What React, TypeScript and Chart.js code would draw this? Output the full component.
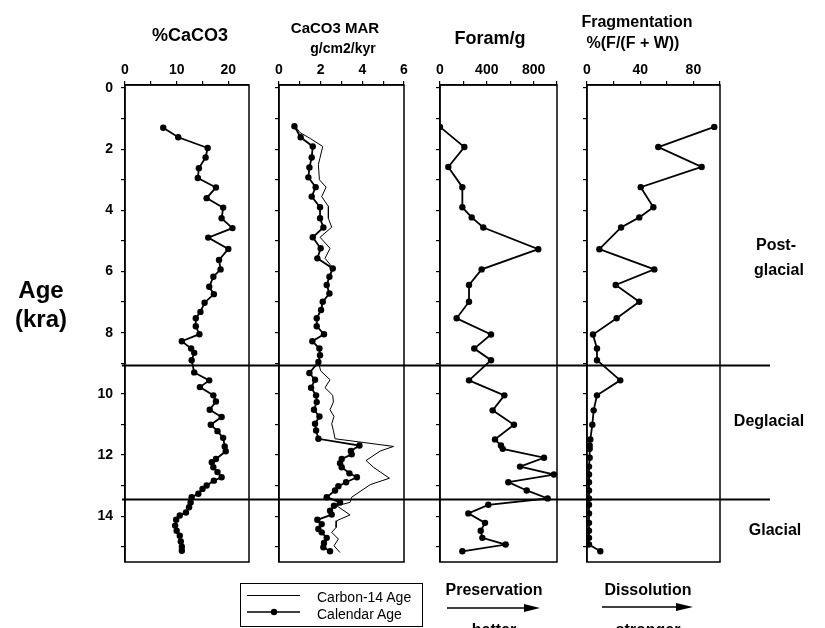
import React, { useEffect, useRef } from "react";
import { Chart, registerables } from "chart.js";

Chart.register(...registerables);

const FONT = "'Liberation Sans', Arial, Helvetica, sans-serif";

// ---------- shared age axis ----------
const ageTicks = [0, 1, 2, 3, 4, 5, 6, 7, 8, 9, 10, 11, 12, 13, 14, 15];
const ageLabels = [0, 2, 4, 6, 8, 10, 12, 14];
const boundaryAges = [9.07, 13.43];

// ---------- panel 1: %CaCO3 ----------
const caco3Ages = [1.3, 1.61, 1.96, 2.27, 2.62, 2.94, 3.25, 3.6, 3.91, 4.26, 4.58, 4.89, 5.26, 5.62, 5.93, 6.17, 6.5, 6.74, 7.02, 7.32, 7.53, 7.79, 8.05, 8.28, 8.52, 8.66, 8.9, 9.3, 9.56, 9.78, 10.05, 10.25, 10.52, 10.76, 11.01, 11.22, 11.44, 11.72, 11.88, 12.13, 12.24, 12.4, 12.56, 12.73, 12.84, 13.0, 13.11, 13.27, 13.38, 13.55, 13.71, 13.88, 13.98, 14.12, 14.31, 14.48, 14.64, 14.83, 15.0, 15.13];
const caco3Pct = [7.4, 10.3, 16.0, 15.6, 14.3, 14.1, 17.6, 15.8, 19.0, 18.7, 20.8, 16.1, 20.0, 18.2, 18.5, 17.1, 16.3, 17.2, 15.4, 14.6, 13.7, 13.7, 14.4, 11.0, 12.8, 13.4, 12.9, 13.4, 16.3, 14.5, 17.1, 17.6, 16.4, 18.7, 16.6, 17.9, 19.0, 19.3, 19.5, 17.6, 16.8, 17.1, 17.9, 18.7, 17.2, 15.8, 15.0, 14.2, 12.9, 12.7, 12.4, 11.8, 10.6, 9.9, 9.7, 10.0, 10.6, 10.8, 11.0, 11.0];
const caco3Ticks = [0, 5, 10, 15, 20];
const caco3Labels = [0, 10, 20];

// ---------- panel 2: CaCO3 MAR ----------
const marCalAges = [1.25, 1.61, 1.91, 2.27, 2.6, 2.92, 3.24, 3.55, 3.9, 4.26, 4.56, 4.88, 5.24, 5.57, 5.9, 6.17, 6.44, 6.72, 6.99, 7.26, 7.53, 7.79, 8.05, 8.28, 8.52, 8.74, 8.96, 9.32, 9.54, 9.8, 10.05, 10.27, 10.52, 10.74, 10.98, 11.2, 11.47, 11.69, 11.87, 11.98, 12.13, 12.27, 12.4, 12.6, 12.73, 12.89, 13.02, 13.16, 13.38, 13.55, 13.66, 13.82, 13.95, 14.12, 14.26, 14.42, 14.53, 14.71, 14.88, 15.02, 15.15];
const marCal = [0.74, 1.04, 1.62, 1.57, 1.46, 1.41, 1.76, 1.57, 1.97, 1.97, 2.13, 1.62, 2.0, 1.84, 2.58, 2.42, 2.29, 2.42, 2.1, 2.02, 1.81, 1.81, 2.16, 1.6, 1.94, 1.97, 1.89, 1.46, 1.73, 1.54, 1.78, 1.81, 1.68, 1.94, 1.73, 1.78, 1.89, 3.86, 3.45, 3.49, 3.01, 2.93, 3.01, 3.38, 3.74, 3.22, 2.85, 2.69, 2.29, 2.93, 2.64, 2.45, 2.53, 1.84, 2.05, 1.89, 2.05, 2.29, 2.16, 2.13, 2.45];
const marC14Ages = [1.22, 1.45, 1.65, 1.91, 2.5, 3.0, 3.24, 3.55, 3.87, 4.26, 4.55, 4.88, 5.24, 5.57, 5.88, 6.17, 6.44, 6.72, 6.99, 7.26, 7.53, 7.79, 8.05, 8.28, 8.52, 8.74, 8.96, 9.25, 9.54, 9.8, 10.05, 10.27, 10.52, 10.74, 10.98, 11.2, 11.47, 11.72, 11.87, 12.18, 12.4, 12.76, 12.97, 13.38, 13.55, 13.66, 13.96, 14.15, 14.37, 14.53, 14.75, 14.97, 15.19];
const marC14 = [0.74, 1.0, 1.5, 2.1, 1.89, 1.94, 2.26, 2.05, 2.37, 2.37, 2.53, 1.97, 2.45, 2.21, 2.58, 2.42, 2.29, 2.42, 2.1, 2.02, 1.81, 1.81, 2.16, 1.6, 1.94, 1.97, 1.89, 2.0, 2.45, 2.21, 2.58, 2.61, 2.45, 2.64, 2.53, 2.61, 2.69, 5.5, 4.86, 4.18, 4.53, 5.3, 4.38, 3.49, 3.41, 2.77, 3.41, 2.77, 2.74, 2.53, 2.85, 2.64, 2.93];
const marTicks = [0, 1, 2, 3, 4, 5, 6];
const marLabels = [0, 2, 4, 6];

// ---------- panels 3 & 4: shared samples ----------
const sampleAges = [1.27, 1.93, 2.58, 3.24, 3.9, 4.23, 4.56, 5.27, 5.93, 6.44, 6.99, 7.53, 8.06, 8.52, 8.9, 9.56, 10.05, 10.54, 11.01, 11.49, 11.69, 11.8, 12.09, 12.38, 12.64, 12.89, 13.16, 13.42, 13.63, 13.91, 14.22, 14.48, 14.71, 14.93, 15.15];
const foramPerG = [0, 208, 71, 191, 191, 271, 370, 840, 356, 248, 248, 142, 436, 293, 436, 248, 550, 450, 632, 470, 521, 536, 889, 684, 974, 584, 741, 920, 413, 242, 385, 348, 362, 561, 191];
const fragPct = [95.7, 53.6, 86.2, 40.4, 49.9, 39.3, 25.6, 9.3, 50.6, 21.6, 39.3, 22.3, 4.5, 7.5, 7.5, 25, 7.5, 5, 4, 2.5, 2, 2, 2, 1.5, 1.5, 1.5, 1.5, 1.5, 1.5, 1.5, 1.5, 1.5, 1.5, 1.5, 10];
const foramTicks = [0, 200, 400, 600, 800, 1000];
const foramLabels = [0, 400, 800];
const fragTicks = [0, 20, 40, 60, 80, 100];
const fragLabels = [0, 40, 80];

// ---------- layout ----------
const PAGE_W = 825;
const PAGE_H = 628;
const AREA_TOP = 85;
const AREA_BOTTOM = 562;

const toPoints = (ages: number[], vals: number[]) => ages.map((a, i) => ({ x: vals[i], y: a }));

const markerSeries = (label: string, ages: number[], vals: number[]) => ({
  label,
  data: toPoints(ages, vals),
  showLine: true,
  borderColor: "#000",
  backgroundColor: "#000",
  borderWidth: 1.8,
  pointRadius: 3.2,
  pointBorderWidth: 0,
  pointBackgroundColor: "#000",
});

const plainSeries = (label: string, ages: number[], vals: number[]) => ({
  label,
  data: toPoints(ages, vals),
  showLine: true,
  borderColor: "#000",
  backgroundColor: "#000",
  borderWidth: 1,
  pointRadius: 0,
});

const boxPlugin = {
  id: "panelBox",
  afterDraw(chart: any, _args: any, opts: any) {
    const { ctx, chartArea: a, scales } = chart;
    ctx.save();
    ctx.strokeStyle = "#000";
    ctx.lineWidth = 1.5;
    ctx.strokeRect(a.left, a.top, a.right - a.left, a.bottom - a.top);
    ctx.lineWidth = 1.8;
    for (const age of boundaryAges) {
      const y = Math.round(scales.y.getPixelForValue(age)) + 0.5;
      ctx.beginPath();
      ctx.moveTo(opts.x0, y);
      ctx.lineTo(opts.x1, y);
      ctx.stroke();
    }
    ctx.restore();
  },
};

type Panel = {
  left: number;
  width: number;
  areaLeft: number;
  areaRight: number;
  xMax: number;
  xTicks: number[];
  xLabels: number[];
  datasets: any[];
  yLabels: boolean;
  lineX0: number;
  lineX1: number;
};

const panels: Panel[] = [
  {
    left: 0, width: 264, areaLeft: 125, areaRight: 249, xMax: 24,
    xTicks: caco3Ticks, xLabels: caco3Labels,
    datasets: [markerSeries("%CaCO3", caco3Ages, caco3Pct)],
    yLabels: true, lineX0: 122, lineX1: 264,
  },
  {
    left: 264, width: 157, areaLeft: 279, areaRight: 404, xMax: 6,
    xTicks: marTicks, xLabels: marLabels,
    datasets: [plainSeries("Carbon-14 Age", marC14Ages, marC14), markerSeries("Calendar Age", marCalAges, marCal)],
    yLabels: false, lineX0: 0, lineX1: 157,
  },
  {
    left: 421, width: 151, areaLeft: 440, areaRight: 557, xMax: 1000,
    xTicks: foramTicks, xLabels: foramLabels,
    datasets: [markerSeries("Foram/g", sampleAges, foramPerG)],
    yLabels: false, lineX0: 0, lineX1: 151,
  },
  {
    left: 572, width: 253, areaLeft: 587, areaRight: 720, xMax: 100,
    xTicks: fragTicks, xLabels: fragLabels,
    datasets: [markerSeries("Fragmentation", sampleAges, fragPct)],
    yLabels: false, lineX0: 0, lineX1: 198,
  },
];

const tickFont = { family: FONT, size: 14, weight: "bold" as const };

function PanelChart({ p }: { p: Panel }) {
  const ref = useRef<HTMLCanvasElement | null>(null);
  useEffect(() => {
    if (!ref.current) return;
    const chart = new Chart(ref.current, {
      type: "scatter",
      data: { datasets: p.datasets },
      options: {
        animation: false,
        responsive: false,
        maintainAspectRatio: false,
        devicePixelRatio: 1,
        layout: {
          padding: { left: 0, right: p.width - (p.areaRight - p.left), top: 0, bottom: PAGE_H - AREA_BOTTOM },
        },
        plugins: {
          legend: { display: false },
          tooltip: { enabled: false },
          panelBox: { x0: p.lineX0, x1: p.lineX1 },
        } as any,
        scales: {
          x: {
            type: "linear",
            position: "top",
            min: 0,
            max: p.xMax,
            afterBuildTicks: (s: any) => {
              s.ticks = p.xTicks.map((v) => ({ value: v }));
            },
            afterFit: (s: any) => {
              s.height = AREA_TOP;
            },
            ticks: {
              autoSkip: false,
              maxRotation: 0,
              minRotation: 0,
              padding: 2,
              color: "#000",
              font: tickFont,
              callback: (v: any) => (p.xLabels.includes(Number(v)) ? String(v) : ""),
            },
            grid: { drawOnChartArea: false, drawTicks: true, tickLength: 4, color: "#000", lineWidth: 1.2 },
            border: { display: true, color: "#000", width: 1.5 },
          },
          y: {
            type: "linear",
            position: "left",
            reverse: true,
            min: -0.1,
            max: 15.5,
            afterBuildTicks: (s: any) => {
              s.ticks = ageTicks.map((v) => ({ value: v }));
            },
            afterFit: (s: any) => {
              s.width = p.areaLeft - p.left;
            },
            ticks: {
              display: p.yLabels,
              autoSkip: false,
              padding: 8,
              color: "#000",
              font: tickFont,
              callback: (v: any) => (ageLabels.includes(Number(v)) ? String(v) : ""),
            },
            grid: { drawOnChartArea: false, drawTicks: true, tickLength: 4, color: "#000", lineWidth: 1.2 },
            border: { display: true, color: "#000", width: 1.5 },
          },
        },
      } as any,
      plugins: [boxPlugin],
    });
    return () => chart.destroy();
  }, [p]);
  return (
    <canvas
      ref={ref}
      width={p.width}
      height={PAGE_H}
      style={{ position: "absolute", left: p.left, top: 0, width: p.width, height: PAGE_H }}
    />
  );
}

function Txt({ x, y, size, bold = true, children }: { x: number; y: number; size: number; bold?: boolean; children: React.ReactNode }) {
  return (
    <div
      style={{
        position: "absolute",
        left: x,
        top: y,
        transform: "translate(-50%, -50%)",
        whiteSpace: "nowrap",
        fontFamily: FONT,
        fontSize: size,
        fontWeight: bold ? 700 : 400,
        lineHeight: 1,
        color: "#000",
      }}
    >
      {children}
    </div>
  );
}

function TxtL({ x, y, size, children }: { x: number; y: number; size: number; children: React.ReactNode }) {
  return (
    <div
      style={{
        position: "absolute",
        left: x,
        top: y,
        transform: "translateY(-50%)",
        whiteSpace: "nowrap",
        fontFamily: FONT,
        fontSize: size,
        fontWeight: 400,
        lineHeight: 1,
        color: "#000",
      }}
    >
      {children}
    </div>
  );
}

export default function App() {
  return (
    <div
      style={{
        position: "fixed",
        left: 0,
        top: 0,
        width: PAGE_W,
        height: PAGE_H,
        background: "#fff",
        overflow: "hidden",
      }}
    >
      {panels.map((p, i) => (
        <PanelChart key={i} p={p} />
      ))}

      {/* panel titles */}
      <Txt x={190} y={35} size={18}>%CaCO3</Txt>
      <Txt x={335} y={27} size={15}>CaCO3 MAR</Txt>
      <Txt x={343} y={48} size={14}>g/cm2/kyr</Txt>
      <Txt x={490} y={38} size={18}>Foram/g</Txt>
      <Txt x={637} y={22} size={16}>Fragmentation</Txt>
      <Txt x={633} y={43} size={16}>%(F/(F + W))</Txt>

      {/* y-axis title */}
      <Txt x={41} y={290} size={24}>Age</Txt>
      <Txt x={41} y={319} size={24}>(kra)</Txt>

      {/* zone labels */}
      <Txt x={776} y={245} size={16}>Post-</Txt>
      <Txt x={779} y={270} size={16}>glacial</Txt>
      <Txt x={769} y={421} size={16}>Deglacial</Txt>
      <Txt x={775} y={530} size={16}>Glacial</Txt>

      {/* legend */}
      <div
        style={{
          position: "absolute",
          left: 240,
          top: 583,
          width: 183,
          height: 44,
          border: "1.5px solid #000",
          boxSizing: "border-box",
        }}
      />
      <svg width={PAGE_W} height={PAGE_H} style={{ position: "absolute", left: 0, top: 0, pointerEvents: "none" }}>
        <line x1={247} y1={595.5} x2={300} y2={595.5} stroke="#000" strokeWidth={1} />
        <line x1={247} y1={612} x2={300} y2={612} stroke="#000" strokeWidth={1.6} />
        <circle cx={274} cy={612} r={3.2} fill="#000" />
        {/* arrows */}
        <line x1={447} y1={608} x2={526} y2={608} stroke="#000" strokeWidth={1.6} />
        <polygon points="524,604 540,608 524,612" fill="#000" />
        <line x1={602} y1={607} x2={678} y2={607} stroke="#000" strokeWidth={1.6} />
        <polygon points="676,603 693,607 676,611" fill="#000" />
      </svg>
      <TxtL x={317} y={597} size={14}>Carbon-14 Age</TxtL>
      <TxtL x={317} y={614} size={14}>Calendar Age</TxtL>

      <Txt x={494} y={590} size={16}>Preservation</Txt>
      <Txt x={494} y={630} size={16}>better</Txt>
      <Txt x={648} y={590} size={16}>Dissolution</Txt>
      <Txt x={648} y={630} size={16}>stronger</Txt>
    </div>
  );
}
